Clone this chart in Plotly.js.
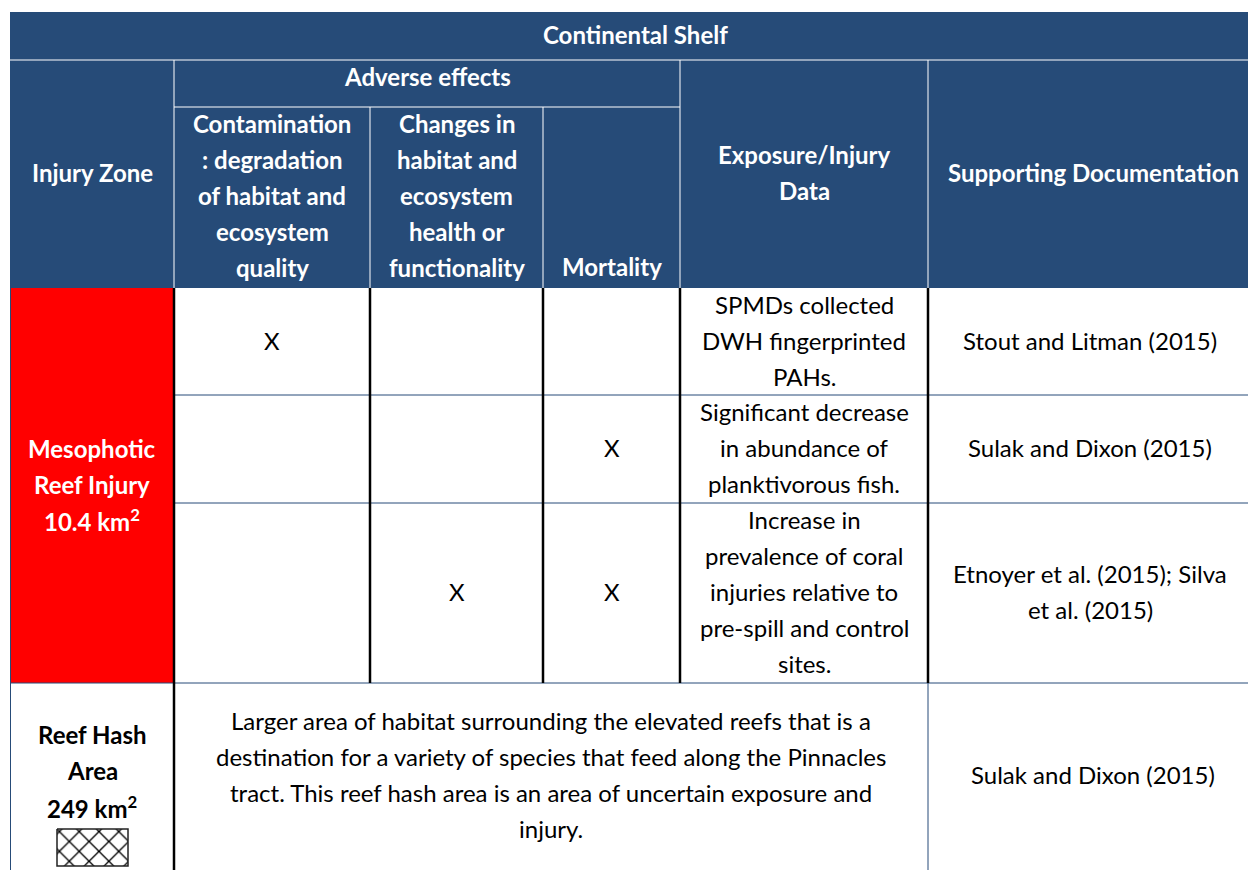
<!DOCTYPE html>
<html><head><meta charset="utf-8">
<script src="https://cdn.plot.ly/plotly-3.0.1.min.js"></script>
<style>html,body{margin:0;padding:0;background:#fff;}#chart{width:1248px;height:870px;}</style>
</head><body><div id="chart"></div>
<script>
// ---- data ----
const tableTitle = "Continental Shelf";
const groupHeader = "Adverse effects";
const injuryHeader = ["Injury Zone"];
const contamHeader = ["Contamination", ": degradation", "of habitat and", "ecosystem", "quality"];
const changesHeader = ["Changes in", "habitat and", "ecosystem", "health or", "functionality"];
const mortalityHeader = ["Mortality"];
const exposureHeader = ["Exposure/Injury", "Data"];
const docHeader = ["Supporting Documentation"];

const zoneMeso = ["Mesophotic", "Reef Injury", "10.4 km<sup>2</sup>"];
const zoneHash = ["Reef Hash", "Area", "249 km<sup>2</sup>"];

const contamMarks = ["X", "", ""];
const changesMarks = ["", "", "X"];
const mortalityMarks = ["", "X", "X"];
const exposureText = [
  ["SPMDs collected", "DWH fingerprinted", "PAHs."],
  ["Significant decrease", "in abundance of", "planktivorous fish."],
  ["Increase in", "prevalence of coral", "injuries relative to", "pre-spill and control", "sites."]
];
const docText = [
  ["Stout and Litman (2015)"],
  ["Sulak and Dixon (2015)"],
  ["Etnoyer et al. (2015); Silva", "et al. (2015)"]
];
const hashText = ["Larger area of habitat surrounding the elevated reefs that is a",
  "destination for a variety of species that feed along the Pinnacles",
  "tract. This reef hash area is an area of uncertain exposure and",
  "injury."];
const hashDoc = ["Sulak and Dixon (2015)"];

// ---- layout structure ----
const X = [10, 174, 370, 543, 680, 928, 1260];
const Y = [12, 60, 107, 288, 395, 503, 683, 870];
const NAVY = "#264b78", RED = "#ff0000", LINE = 36, YOFF = -1.5;
const FONT = "Lato, 'Open Sans', sans-serif";
const FS = 24;

const shapes = [];
const annotations = [];
function rect(x0, y0, x1, y1, fill) {
  shapes.push({type: "rect", xref: "x", yref: "y", x0, y0, x1, y1, fillcolor: fill, line: {width: 0}, layer: "below"});
}
function line(x0, y0, x1, y1, color, w) {
  shapes.push({type: "line", xref: "x", yref: "y", x0, y0, x1, y1, line: {color, width: w}});
}
function cell(xc, yc, lines, color, bold) {
  const n = lines.length;
  lines.forEach((t, i) => {
    if (!t) return;
    annotations.push({
      xref: "x", yref: "y", x: xc, y: yc + YOFF + (i - (n - 1) / 2) * LINE,
      text: bold ? "<b>" + t + "</b>" : t, showarrow: false,
      xanchor: "center", yanchor: "middle",
      font: {family: FONT, size: FS, color}
    });
  });
}
const cx = i => (X[i] + X[i + 1]) / 2;
const cy = j => (Y[j] + Y[j + 1]) / 2;

// header background
rect(X[0], Y[0], X[6], Y[3], NAVY);
// red zone
rect(X[0], Y[3], X[1], Y[6], RED);

// header lines (white)
line(X[0], Y[1], X[6], Y[1], "#ffffff", 1);
line(X[1], Y[2], X[4], Y[2], "#ffffff", 1);
line(X[1], Y[1], X[1], Y[3], "#ffffff", 1);
line(X[4], Y[1], X[4], Y[3], "#ffffff", 1);
line(X[5], Y[1], X[5], Y[3], "#ffffff", 1);
line(X[2], Y[2], X[2], Y[3], "#ffffff", 1);
line(X[3], Y[2], X[3], Y[3], "#ffffff", 1);

// body horizontal lines (navy thin)
line(X[1], Y[4], X[6], Y[4], NAVY, 1);
line(X[1], Y[5], X[6], Y[5], NAVY, 1);
line(X[0], Y[6], X[6], Y[6], NAVY, 1);
line(X[0] + 0.5, Y[3], X[0] + 0.5, Y[7], NAVY, 1);
// body vertical lines (black)
[1, 2, 3, 4, 5].forEach(i => line(X[i], Y[3], X[i], Y[6], "#000000", 2.5));
line(X[1], Y[6], X[1], Y[7], "#000000", 2.5);
line(X[5], Y[6], X[5], Y[7], NAVY, 1);

// header text
cell(635, cy(0), [tableTitle], "#ffffff", true);
cell((X[1] + X[4]) / 2, 78, [groupHeader], "#ffffff", true);
cell(cx(0), (Y[1] + Y[3]) / 2, injuryHeader, "#ffffff", true);
cell(cx(1), 197, contamHeader, "#ffffff", true);
cell(cx(2), 197, changesHeader, "#ffffff", true);
cell(cx(3), 268, mortalityHeader, "#ffffff", true);
cell(cx(4), (Y[1] + Y[3]) / 2, exposureHeader, "#ffffff", true);
cell(1093, (Y[1] + Y[3]) / 2, docHeader, "#ffffff", true);

// body rows
[0, 1, 2].forEach(r => {
  const yc = cy(3 + r);
  cell(cx(1), yc, [contamMarks[r]], "#000000", false);
  cell(cx(2), yc, [changesMarks[r]], "#000000", false);
  cell(cx(3), yc, [mortalityMarks[r]], "#000000", false);
  cell(cx(4), yc, exposureText[r], "#000000", false);
  cell(1090, yc, docText[r], "#000000", false);
});
cell(cx(0), (Y[3] + Y[6]) / 2, zoneMeso, "#ffffff", true);

// last row
cell(cx(0), 772, zoneHash, "#000000", true);
cell((X[1] + X[5]) / 2, 776, hashText, "#000000", false);
cell(1093, 776, hashDoc, "#000000", false);

// hatch swatch via pattern fill
const hatch = {
  type: "scatter", mode: "lines",
  x: [57, 128, 128, 57, 57], y: [829, 829, 866, 866, 829],
  fill: "toself", fillcolor: "#ffffff",
  fillpattern: {shape: "x", size: 14, solidity: 0.18, fgcolor: "#000000", bgcolor: "#ffffff"},
  line: {color: "#222222", width: 1.5}, hoverinfo: "skip", showlegend: false
};

const layout = {
  width: 1248, height: 870,
  margin: {l: 0, r: 0, t: 0, b: 0},
  paper_bgcolor: "#ffffff", plot_bgcolor: "#ffffff",
  xaxis: {range: [0, 1248], visible: false, fixedrange: true},
  yaxis: {range: [870, 0], visible: false, fixedrange: true},
  shapes, annotations, showlegend: false
};
Plotly.newPlot("chart", [hatch], layout, {staticPlot: true});
</script></body></html>
